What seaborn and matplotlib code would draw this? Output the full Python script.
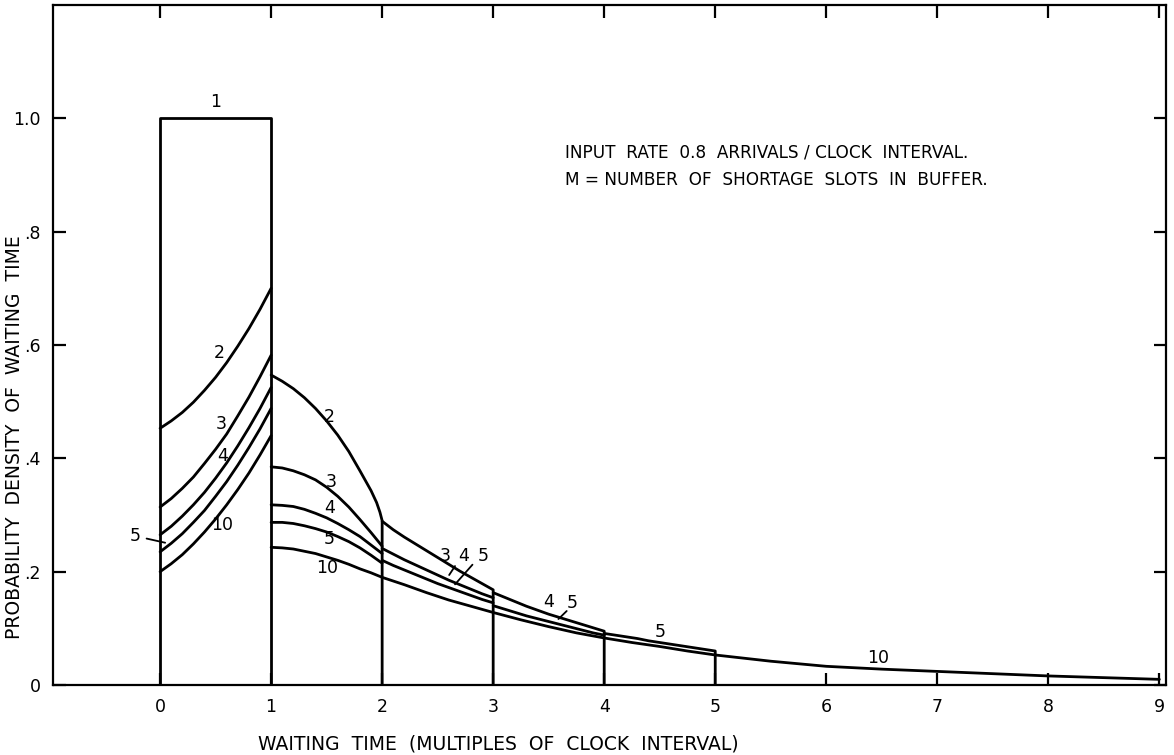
import numpy as np
import pandas as pd
import matplotlib
matplotlib.use("Agg")
import matplotlib.pyplot as plt
import seaborn as sns

# Offsets inside one clock interval at which each curve piece is tabulated
OFFSETS = np.round(np.arange(0, 11) * 0.1, 1)

# M = 1: uniform density on the first interval
m1_x = [0.0, 0.0, 1.0, 1.0]
m1_y = [0.0, 1.0, 1.0, 0.0]

# M = 2
m2_seg0 = [0.453, 0.466, 0.481, 0.499, 0.520, 0.543, 0.569, 0.598, 0.629, 0.663, 0.700]
m2_seg1_x = [1.0, 1.1, 1.2, 1.3, 1.4, 1.5, 1.6, 1.7, 1.8, 1.9, 1.95, 1.98, 2.0]
m2_seg1 = [0.547, 0.536, 0.523, 0.507, 0.488, 0.466, 0.441, 0.412, 0.378, 0.343, 0.322, 0.305, 0.290]

# M = 3
m3_seg0 = [0.314, 0.329, 0.347, 0.367, 0.391, 0.416, 0.443, 0.475, 0.508, 0.544, 0.582]
m3_seg1 = [0.385, 0.383, 0.378, 0.371, 0.362, 0.349, 0.333, 0.314, 0.292, 0.269, 0.245]
m3_seg2 = [0.289, 0.274, 0.261, 0.249, 0.237, 0.225, 0.213, 0.201, 0.190, 0.179, 0.168]

# M = 4
m4_seg0 = [0.265, 0.280, 0.298, 0.318, 0.340, 0.365, 0.392, 0.422, 0.454, 0.488, 0.525]
m4_seg1 = [0.318, 0.317, 0.315, 0.310, 0.303, 0.295, 0.285, 0.274, 0.262, 0.247, 0.232]
m4_seg2 = [0.241, 0.231, 0.221, 0.212, 0.203, 0.194, 0.185, 0.177, 0.169, 0.161, 0.154]
m4_seg3 = [0.163, 0.155, 0.147, 0.139, 0.132, 0.125, 0.119, 0.113, 0.107, 0.101, 0.095]

# M = 5
m5_seg0 = [0.235, 0.250, 0.267, 0.287, 0.308, 0.333, 0.359, 0.388, 0.419, 0.452, 0.488]
m5_seg1 = [0.287, 0.287, 0.285, 0.281, 0.276, 0.270, 0.262, 0.253, 0.242, 0.229, 0.215]
m5_seg2 = [0.220, 0.211, 0.203, 0.195, 0.187, 0.179, 0.172, 0.165, 0.158, 0.151, 0.145]
m5_seg3 = [0.140, 0.134, 0.128, 0.122, 0.117, 0.112, 0.107, 0.102, 0.097, 0.092, 0.088]
m5_seg4 = [0.091, 0.088, 0.085, 0.082, 0.078, 0.075, 0.072, 0.069, 0.066, 0.063, 0.060]

# M = 10
m10_seg0 = [0.200, 0.214, 0.230, 0.249, 0.270, 0.293, 0.318, 0.345, 0.374, 0.406, 0.440]
m10_tail_x = [1.0, 1.1, 1.2, 1.3, 1.4, 1.5, 1.6, 1.7, 1.8, 1.9, 2.0,
              2.2, 2.4, 2.6, 2.8, 3.0, 3.25, 3.5, 3.75, 4.0, 4.25, 4.5, 4.75,
              5.0, 5.5, 6.0, 6.5, 7.0, 7.5, 8.0, 8.5, 9.0]
m10_tail_y = [0.243, 0.242, 0.240, 0.236, 0.232, 0.226, 0.220, 0.213, 0.205, 0.198, 0.190,
              0.177, 0.163, 0.150, 0.139, 0.128, 0.115, 0.103, 0.092, 0.083, 0.075, 0.068, 0.060,
              0.053, 0.042, 0.033, 0.028, 0.024, 0.020, 0.016, 0.013, 0.010]

# Tick values and labels
x_ticks = [0, 1, 2, 3, 4, 5, 6, 7, 8, 9]
y_ticks = [0.0, 0.2, 0.4, 0.6, 0.8, 1.0]
y_tick_labels = ["0", ".2", ".4", ".6", ".8", "1.0"]


def piece(m, start, values, drop=False, xs=None):
    """One curve piece starting at integer time `start`; optionally fall to zero at its end."""
    xs = list(start + OFFSETS) if xs is None else list(xs)
    ys = list(values)
    if drop:
        xs.append(xs[-1])
        ys.append(0.0)
    return m, xs, ys


pieces = [
    (1, m1_x, m1_y),
    piece(2, 0, m2_seg0), piece(2, 1, m2_seg1, drop=True, xs=m2_seg1_x),
    piece(3, 0, m3_seg0), piece(3, 1, m3_seg1), piece(3, 2, m3_seg2, drop=True),
    piece(4, 0, m4_seg0), piece(4, 1, m4_seg1), piece(4, 2, m4_seg2), piece(4, 3, m4_seg3, drop=True),
    piece(5, 0, m5_seg0), piece(5, 1, m5_seg1), piece(5, 2, m5_seg2), piece(5, 3, m5_seg3),
    piece(5, 4, m5_seg4, drop=True),
    piece(10, 0, m10_seg0), (10, m10_tail_x, m10_tail_y),
]

rows = []
for trace, (m, xs, ys) in enumerate(pieces):
    for order, (xv, yv) in enumerate(zip(xs, ys)):
        rows.append({"M": m, "trace": trace, "order": order, "time": xv, "density": yv})
df = pd.DataFrame(rows)

sns.set_style("ticks")
plt.rcParams["font.family"] = ["DejaVu Sans"]
plt.rcParams["text.color"] = "black"
plt.rcParams["axes.labelcolor"] = "black"

fig = plt.figure(figsize=(11.74, 7.55), dpi=100)
ax = fig.add_axes([0.0451, 0.0927, 0.9481, 0.9007])

sns.lineplot(data=df, x="time", y="density", units="trace", estimator=None,
             sort=False, color="black", linewidth=2.0, ax=ax, legend=False)
for ln in ax.get_lines():
    ln.set_solid_joinstyle("round")

ax.set_xlim(-0.965, 9.06)
ax.set_ylim(0, 1.2)
ax.set_xticks(x_ticks)
ax.set_xticklabels([str(v) for v in x_ticks])
ax.set_yticks(y_ticks)
ax.set_yticklabels(y_tick_labels)

for side in ["left", "right", "top", "bottom"]:
    ax.spines[side].set_visible(True)
    ax.spines[side].set_linewidth(1.6)
    ax.spines[side].set_color("black")

ax.tick_params(direction="in", length=9, width=1.6, top=True, right=True,
               labelsize=12.5, colors="black", labelcolor="black")
ax.tick_params(axis="x", pad=9)
ax.tick_params(axis="y", pad=9)

ax.set_xlabel("WAITING  TIME  (MULTIPLES  OF  CLOCK  INTERVAL)", fontsize=13.5, color="black")
ax.set_ylabel("PROBABILITY  DENSITY  OF  WAITING  TIME", fontsize=13.5, color="black")
ax.xaxis.set_label_coords(0.40, -0.073)
ax.yaxis.set_label_coords(-0.026, 0.365)

# Curve labels (number of shortage slots M)
label_kw = dict(fontsize=12.5, ha="center", va="center", color="black")
ax.text(0.50, 1.028, "1", **label_kw)
ax.text(0.53, 0.585, "2", **label_kw)
ax.text(0.55, 0.460, "3", **label_kw)
ax.text(0.56, 0.405, "4", **label_kw)
ax.text(0.56, 0.282, "10", **label_kw)
ax.text(1.52, 0.473, "2", **label_kw)
ax.text(1.54, 0.358, "3", **label_kw)
ax.text(1.53, 0.312, "4", **label_kw)
ax.text(1.52, 0.257, "5", **label_kw)
ax.text(1.50, 0.206, "10", **label_kw)
ax.text(2.57, 0.228, "3", **label_kw)
ax.text(2.73, 0.228, "4", **label_kw)
ax.text(2.91, 0.228, "5", **label_kw)
ax.text(3.50, 0.146, "4", **label_kw)
ax.text(3.71, 0.144, "5", **label_kw)
ax.text(4.50, 0.094, "5", **label_kw)
ax.text(6.47, 0.047, "10", **label_kw)

# Leader lines from labels to their curves
leader = dict(arrowstyle="-", color="black", lw=1.3)
ax.annotate("5", xy=(0.07, 0.250), xytext=(-0.225, 0.263), arrowprops=leader,
            fontsize=12.5, ha="center", va="center", color="black")
ax.annotate("", xy=(2.59, 0.190), xytext=(2.67, 0.214), arrowprops=leader)
ax.annotate("", xy=(2.64, 0.174), xytext=(2.83, 0.216), arrowprops=leader)
ax.annotate("", xy=(3.57, 0.113), xytext=(3.68, 0.134), arrowprops=leader)

note_kw = dict(fontsize=12.2, ha="left", va="center", color="black")
ax.text(3.65, 0.940, "INPUT  RATE  0.8  ARRIVALS / CLOCK  INTERVAL.", **note_kw)
ax.text(3.65, 0.892, "M = NUMBER  OF  SHORTAGE  SLOTS  IN  BUFFER.", **note_kw)

fig.savefig("out.png", dpi=100)
